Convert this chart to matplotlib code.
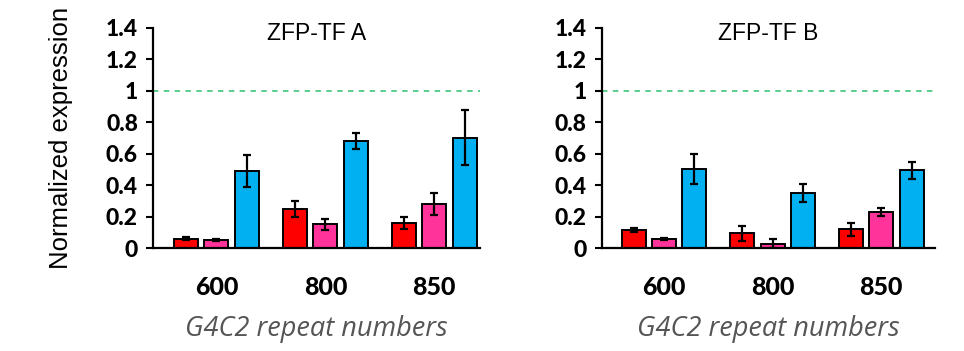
import numpy as np
import matplotlib
matplotlib.use("Agg")
import matplotlib.pyplot as plt

groups = ["600", "800", "850"]
titles = ["ZFP-TF A", "ZFP-TF B"]
colors = ["#FF0000", "#FF3399", "#00B0F0"]

# values per panel: rows = series (red, pink, blue), cols = repeat number
vals_a = [[0.06, 0.25, 0.16],
          [0.05, 0.15, 0.28],
          [0.49, 0.68, 0.70]]
errs_a = [[0.01, 0.05, 0.04],
          [0.008, 0.035, 0.07],
          [0.10, 0.05, 0.175]]
vals_b = [[0.115, 0.095, 0.12],
          [0.058, 0.028, 0.228],
          [0.50, 0.35, 0.494]]
errs_b = [[0.01, 0.048, 0.042],
          [0.007, 0.03, 0.027],
          [0.095, 0.06, 0.053]]
yticks = [0, 0.2, 0.4, 0.6, 0.8, 1, 1.2, 1.4]
ytick_labels = ["0", "0.2", "0.4", "0.6", "0.8", "1", "1.2", "1.4"]

fig = plt.figure(figsize=(9.64, 3.51), dpi=100)
axes = [fig.add_axes([0.159, 0.2934, 0.339, 0.627]),
        fig.add_axes([0.6245, 0.2934, 0.345, 0.627])]
xlims = [(-0.58, 2.42), (-0.57, 2.49)]

x = np.arange(len(groups))
w = 0.22
off = 0.278
for ax, vals, errs, title, xl in zip(axes, [vals_a, vals_b], [errs_a, errs_b], titles, xlims):
    for i in range(3):
        ax.bar(x + (i - 1) * off, vals[i], w, color=colors[i], edgecolor="black",
               linewidth=1.4, yerr=errs[i], capsize=3,
               error_kw=dict(elinewidth=1.6, capthick=1.6, ecolor="black"), zorder=2)
    ax.axhline(1, color="#4CC984", linestyle=(0, (3, 3)), linewidth=1.3, zorder=1)
    ax.set_xlim(*xl)
    ax.set_ylim(0, 1.4)
    ax.set_yticks(yticks)
    ax.set_yticklabels(ytick_labels, fontsize=16.5, fontweight="black", family="Lato")
    ax.set_xticks(x)
    ax.set_xticklabels(groups, fontsize=18, fontweight="black", family="Lato")
    ax.tick_params(axis="x", length=0, pad=20)
    ax.tick_params(axis="y", length=5, width=1.5, direction="out", pad=6)
    for s in ["top", "right"]:
        ax.spines[s].set_visible(False)
    ax.spines["left"].set_linewidth(1.6)
    ax.spines["bottom"].set_linewidth(1.6)
    ax.text(0.5, 0.975, title, transform=ax.transAxes, ha="center", va="center",
            fontsize=16.5, family="Liberation Sans")
    ax.set_xlabel("G4C2 repeat numbers", fontsize=19.5, style="italic", color="#555555",
                  family="Open Sans", labelpad=12)

axes[0].set_ylabel("Normalized expression", fontsize=18.5, family="Liberation Sans", labelpad=24)

fig.savefig("out.png", dpi=100)
